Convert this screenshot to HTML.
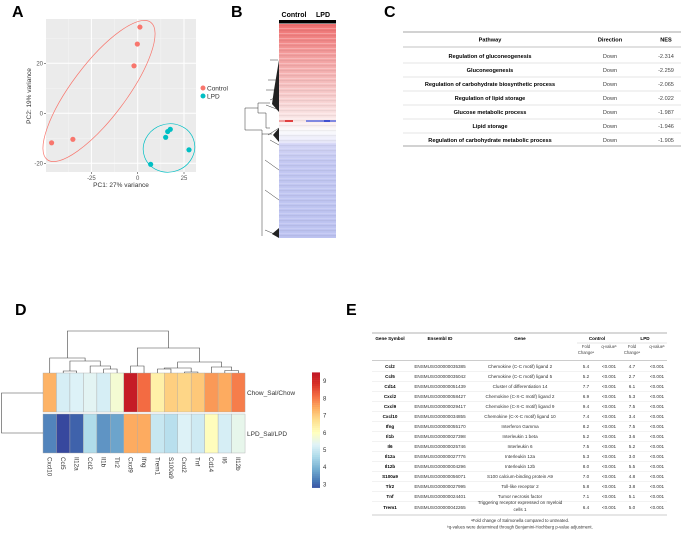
<!DOCTYPE html>
<html><head><meta charset="utf-8"><style>
body{margin:0;background:#fff;}
svg{display:block;font-family:"Liberation Sans",Arial,sans-serif;}
</style></head><body>
<svg id="fig" width="682" height="535" viewBox="0 0 682 535" xmlns="http://www.w3.org/2000/svg">
<g font-weight="bold" font-size="16" fill="#000">
<text x="12" y="17">A</text>
<text x="231" y="17">B</text>
<text x="384" y="17">C</text>
<text x="15" y="315">D</text>
<text x="346" y="315">E</text>
</g>
<g id="pca"></g>
<g id="heatB"></g>
<g id="tableC"></g>
<g id="heatD"></g>
<g id="tableE"></g>
</svg>
<script>
const NS="http://www.w3.org/2000/svg";
function mk(parent,tag,attrs,text){const e=document.createElementNS(NS,tag);for(const k in attrs)e.setAttribute(k,attrs[k]);if(text!==undefined)e.textContent=text;parent.appendChild(e);return e;}

// ===== Panel A data =====
const pcaControlX=[1.2,-0.2,-2,-35,-46.5];
const pcaControlY=[34.5,27.7,19,-10.4,-11.8];
const pcaLpdX=[17.6,16.2,15.1,27.7,7];
const pcaLpdY=[-6.4,-7.3,-9.6,-14.6,-20.4];
const pcaXTicks=[-25,0,25];
const pcaYTicks=[-20,0,20];

// ===== Panel C data =====
const pathways=["Regulation of gluconeogenesis","Gluconeogenesis","Regulation of carbohydrate biosynthetic process","Regulation of lipid storage","Glucose metabolic process","Lipid storage","Regulation of carbohydrate metabolic process"];
const pathwayDirection=["Down","Down","Down","Down","Down","Down","Down"];
const pathwayNES=["-2.314","-2.259","-2.065","-2.022","-1.987","-1.946","-1.905"];

// ===== Panel D data =====
const dGenes=["Cxcl10","Ccl5","Il12a","Ccl2","Il1b","Tlr2","Cxcl9","Ifng","Trem1","S100a9","Cxcl2","Tnf","Cd14","Il6","Il12b"];
const dChow=[7.4,5.2,5.3,5.4,5.2,5.8,9.4,8.2,6.4,7.0,6.9,7.1,7.7,7.5,8.0];
const dLpd=[3.4,2.7,3.0,4.7,3.6,3.8,7.5,7.5,5.0,4.8,5.3,5.1,6.1,5.2,5.5];
const dRows=["Chow_Sal/Chow","LPD_Sal/LPD"];
const dScaleTicks=[3,4,5,6,7,8,9];

// ===== Panel E data =====
const eSymbols=["Ccl2","Ccl5","Cd14","Cxcl2","Cxcl9","Cxcl10","Ifng","Il1b","Il6","Il12a","Il12b","S100a9","Tlr2","Tnf","Trem1"];
const eIds=["ENSMUSG00000035385","ENSMUSG00000035042","ENSMUSG00000051439","ENSMUSG00000058427","ENSMUSG00000029417","ENSMUSG00000034855","ENSMUSG00000055170","ENSMUSG00000027398","ENSMUSG00000025746","ENSMUSG00000027776","ENSMUSG00000004296","ENSMUSG00000056071","ENSMUSG00000027995","ENSMUSG00000024401","ENSMUSG00000042265"];
const eNames=["Chemokine (C-C motif) ligand 2","Chemokine (C-C motif) ligand 5","Cluster of differentiation 14","Chemokine (C-X-C motif) ligand 2","Chemokine (C-X-C motif) ligand 9","Chemokine (C-X-C motif) ligand 10","Interferon Gamma","Interleukin 1 beta","Interleukin 6","Interleukin 12a","Interleukin 12b","S100 calcium-binding protein A9","Toll-like receptor 2","Tumor necrosis factor","Triggering receptor expressed on myeloid|cells 1"];
const eCtrlFold=["5.4","5.2","7.7","6.9","9.4","7.4","8.2","5.2","7.5","5.3","8.0","7.0","5.8","7.1","6.4"];
const eLpdFold=["4.7","2.7","6.1","5.3","7.5","3.4","7.5","3.6","5.2","3.0","5.5","4.8","3.8","5.1","5.0"];

// ---------- Panel A ----------
(function(){
 const g=document.getElementById('pca');
 const x0=46,x1=196,y0=19,y1=172;
 const sx=v=>137.7+v*1.852, sy=v=>113.3-v*2.5;
 const bg=mk(g,'rect',{x:x0,y:y0,width:x1-x0,height:y1-y0,fill:'#ebebeb'});
 
 [-37.5,-12.5,12.5].forEach(v=>mk(g,'line',{x1:sx(v),x2:sx(v),y1:y0,y2:y1,stroke:'#f5f5f5','stroke-width':0.5}));
 [-10,10,30].forEach(v=>mk(g,'line',{x1:x0,x2:x1,y1:sy(v),y2:sy(v),stroke:'#f5f5f5','stroke-width':0.5}));
 pcaXTicks.forEach(v=>{mk(g,'line',{x1:sx(v),x2:sx(v),y1:y0,y2:y1,stroke:'#fff','stroke-width':1});
  mk(g,'line',{x1:sx(v),x2:sx(v),y1:y1,y2:y1+2,stroke:'#444','stroke-width':0.6});
  const t=mk(g,'text',{x:sx(v),y:y1+8,'font-size':6,fill:'#555','text-anchor':'middle'},String(v));
  });
 pcaYTicks.forEach(v=>{mk(g,'line',{x1:x0,x2:x1,y1:sy(v),y2:sy(v),stroke:'#fff','stroke-width':1});
  mk(g,'line',{x1:x0-2,x2:x0,y1:sy(v),y2:sy(v),stroke:'#444','stroke-width':0.6});
  const t=mk(g,'text',{x:x0-3,y:sy(v)+2,'font-size':6,fill:'#555','text-anchor':'end'},String(v));
  });
 const e1=mk(g,'ellipse',{cx:99,cy:91,rx:86,ry:27,fill:'none',stroke:'#f8766d','stroke-width':0.7,transform:'rotate(-53 99 91)'});
 
 const e2=mk(g,'ellipse',{cx:169,cy:148,rx:26,ry:24,fill:'none',stroke:'#00bfc4','stroke-width':0.7,transform:'rotate(-20 169 148)'});
 
 pcaControlX.forEach((v,i)=>{const c=mk(g,'circle',{cx:sx(v),cy:sy(pcaControlY[i]),r:2.6,fill:'#f8766d'});
  });
 pcaLpdX.forEach((v,i)=>{const c=mk(g,'circle',{cx:sx(v),cy:sy(pcaLpdY[i]),r:2.6,fill:'#00bfc4'});
  });
 const xt=mk(g,'text',{x:121,y:187,'font-size':6.5,fill:'#333','text-anchor':'middle'},'PC1: 27% variance');
 
 const yt=mk(g,'text',{x:0,y:0,'font-size':6.5,fill:'#333','text-anchor':'middle',transform:'translate(31,96) rotate(-90)'},'PC2: 19% variance');
 
 const l1=mk(g,'g',{});
 mk(l1,'circle',{cx:203,cy:88,r:2.5,fill:'#f8766d'});mk(l1,'text',{x:207,y:90.5,'font-size':6.5,fill:'#333'},'Control');
 const l2=mk(g,'g',{});
 mk(l2,'circle',{cx:203,cy:96,r:2.5,fill:'#00bfc4'});mk(l2,'text',{x:207,y:98.5,'font-size':6.5,fill:'#333'},'LPD');
})();

// ---------- Panel B ----------
(function(){
 const g=document.getElementById('heatB');
 const hx0=279,hx1=336,hy0=24,hy1=238;
 const gr=mk(g,'defs',{});
 const lg=mk(gr,'linearGradient',{id:'bgrad',x1:0,y1:0,x2:0,y2:1});
 [[0,'#f07070'],[0.15,'#f4a0a0'],[0.35,'#f8d0d0'],[0.45,'#fbeaea'],[0.5,'#fafafc'],[0.55,'#e8e8fa'],[0.65,'#d4d8f6'],[1,'#ccd2f4']].forEach(s=>mk(lg,'stop',{offset:s[0],'stop-color':s[1]}));
 const pt=mk(gr,'pattern',{id:'stripes',width:57,height:5,patternUnits:'userSpaceOnUse'});
 mk(pt,'rect',{x:0,y:0,width:57,height:1.2,fill:'rgba(0,0,0,0.05)'});
 mk(pt,'rect',{x:0,y:3,width:57,height:0.8,fill:'rgba(255,255,255,0.3)'});
 const hm=mk(g,'rect',{x:hx0,y:hy0,width:hx1-hx0,height:hy1-hy0,fill:'url(#bgrad)'});
 
 mk(g,'rect',{x:hx0,y:hy0,width:hx1-hx0,height:hy1-hy0,fill:'url(#stripes)'});
 mk(g,'rect',{x:hx0,y:143,width:57,height:95,fill:'rgba(80,90,220,0.12)'});
 mk(g,'rect',{x:285,y:120,width:8,height:2,fill:'#e04040'});
 mk(g,'rect',{x:279,y:120,width:6,height:2,fill:'#f0a0a0'});
 mk(g,'rect',{x:306,y:120,width:30,height:2,fill:'#8088e0'});
 mk(g,'rect',{x:324,y:120,width:6,height:2,fill:'#4050d0'});
 mk(g,'rect',{x:279,y:20,width:57,height:3.5,fill:'#000'});
 const c=mk(g,'text',{x:294,y:17,'font-size':7,'font-weight':'bold','text-anchor':'middle'},'Control');
 
 const l=mk(g,'text',{x:323,y:17,'font-size':7,'font-weight':'bold','text-anchor':'middle'},'LPD');
 
 const dg=mk(g,'g',{stroke:'#000','stroke-width':0.4,fill:'none'});
 
 mk(dg,'path',{d:'M245,108 V130 M245,108 H258 M245,130 H262 M258,103 V113 M258,103 H270 M258,113 H266 M262,130 V236 M262,134 H272 M266,113 V128 M266,128 H270'});
 mk(dg,'path',{d:'M270,60 L278,60 M268,80 L279,80 M266,90 L279,90 M270,100 L279,96 M266,105 L279,110 M268,135 L279,128 M270,140 L279,145 M265,160 L279,170 M265,190 L279,200 M265,230 L279,236'});
 mk(g,'polygon',{points:'279,60 279,112 272,104 274,90','fill':'#222'});
 mk(g,'polygon',{points:'279,128 279,142 273,135','fill':'#222'});
 mk(g,'polygon',{points:'279,228 279,238 272,234','fill':'#222'});
})();

// ---------- Panel C ----------
(function(){
 const g=document.getElementById('tableC');
 mk(g,'line',{x1:403,x2:681,y1:32,y2:32,stroke:'#888','stroke-width':0.8});
 mk(g,'line',{x1:403,x2:681,y1:47,y2:47,stroke:'#888','stroke-width':0.6});
 mk(g,'line',{x1:403,x2:681,y1:146,y2:146,stroke:'#888','stroke-width':0.8});
 [['Pathway',490],['Direction',610],['NES',666]].forEach(h=>{const t=mk(g,'text',{x:h[1],y:41.5,'font-size':5.6,'font-weight':'bold','text-anchor':'middle'},h[0]);
  });
 pathways.forEach((p,i)=>{const y=56+i*14;
  if(i>0)mk(g,'line',{x1:403,x2:681,y1:y-7,y2:y-7,stroke:'#ccc','stroke-width':0.5});
  const r=mk(g,'g',{});
  mk(r,'text',{x:490,y:y+2,'font-size':5.6,'font-weight':'bold','text-anchor':'middle'},p);
  mk(r,'text',{x:610,y:y+2,'font-size':5.6,fill:'#444','text-anchor':'middle'},pathwayDirection[i]);
  mk(r,'text',{x:666,y:y+2,'font-size':5.6,fill:'#444','text-anchor':'middle'},pathwayNES[i]);});
})();

// ---------- Panel D ----------
(function(){
 const g=document.getElementById('heatD');
 const cx0=43,cw=13.47,r1=373,r2=414,rh=39;
 const vmin=2.5,vmax=9.6;
 const stops=[[0,[49,54,149]],[0.1,[69,117,180]],[0.2,[116,173,209]],[0.3,[171,217,233]],[0.4,[224,243,248]],[0.5,[255,255,191]],[0.6,[254,224,144]],[0.7,[253,174,97]],[0.8,[244,109,67]],[0.9,[215,48,39]],[1,[190,20,38]]];
 function col(v){let t=(v-vmin)/(vmax-vmin);t=Math.max(0,Math.min(1,t));
  for(let i=1;i<stops.length;i++){if(t<=stops[i][0]+1e-9){const a=stops[i-1],b=stops[i],f=(t-a[0])/(b[0]-a[0]);
   return 'rgb('+a[1].map((c,k)=>Math.round(c+(b[1][k]-c)*f)).join(',')+')';}}return 'rgb(190,20,38)';}
 const cx=i=>cx0+cw*(i+0.5);
 dGenes.forEach((gn,i)=>{
  const a=mk(g,'rect',{x:cx0+cw*i,y:r1,width:cw,height:rh,fill:col(dChow[i]),stroke:'#aaa','stroke-width':0.4});
  
  const b=mk(g,'rect',{x:cx0+cw*i,y:r2,width:cw,height:rh,fill:col(dLpd[i]),stroke:'#aaa','stroke-width':0.4});
  
  const t=mk(g,'text',{x:0,y:0,'font-size':6.3,fill:'#333',transform:'translate('+(cx(i)-2.2)+',457) rotate(90)'},gn);
  });
 dRows.forEach((r,i)=>{const t=mk(g,'text',{x:247,y:(i?r2:r1)+rh/2+2.5,'font-size':6.5,fill:'#333'},r);
  });
 const dd=mk(g,'g',{stroke:'#444','stroke-width':0.6,fill:'none'});
 
 function link(xa,ya,xb,yb,h){mk(dd,'path',{d:'M'+xa+','+ya+' V'+h+' H'+xb+' V'+yb});return [(xa+xb)/2,h];}
 const n=(i)=>[cx(i),r1];
 const a12=link(...n(1),...n(2),371);
 const a45=link(...n(4),...n(5),369);
 const a345=link(...n(3),...a45,366);
 const a1_5=link(...a12,...a345,361);
 const aL=link(...n(0),...a1_5,358);
 const a67=link(...n(6),...n(7),366);
 const a89=link(...n(8),...n(9),369);
 const a1011=link(...n(10),...n(11),372);
 const a8_11=link(...a89,...a1011,368);
 const a1314=link(...n(13),...n(14),370.5);
 const a12_14=link(...n(12),...a1314,367);
 const a8_14=link(...a8_11,...a12_14,362);
 const aR=link(...a67,...a8_14,348);
 link(...aL,...aR,331);
 const rd=mk(g,'path',{d:'M43,393 H1.5 V433 H43',stroke:'#444','stroke-width':0.6,fill:'none'});
 
 const ys=v=>381+(9-v)*17.2;
 const sg=mk(g,'g',{});
 for(let k=0;k<60;k++){const v=9.5-(9.5-2.8)*k/60;const v2=9.5-(9.5-2.8)*(k+1)/60;
  mk(sg,'rect',{x:312,y:ys(v),width:8,height:ys(v2)-ys(v)+0.3,fill:col(v)});}
 dScaleTicks.forEach(v=>{mk(sg,'text',{x:323,y:ys(v)+2.2,'font-size':6,fill:'#333'},String(v));});
})();

// ---------- Panel E ----------
(function(){
 const g=document.getElementById('tableE');
 const L=372,R=667,fs=4.6;
 const colX=[390,440,520,586,609,632,657];
 mk(g,'line',{x1:L,x2:R,y1:333,y2:333,stroke:'#999','stroke-width':0.7});
 mk(g,'line',{x1:577,x2:R,y1:343,y2:343,stroke:'#bbb','stroke-width':0.4});
 mk(g,'line',{x1:L,x2:R,y1:360.5,y2:360.5,stroke:'#999','stroke-width':0.5});
 const hd=mk(g,'g',{'font-size':fs,'font-weight':'bold','text-anchor':'middle'});
 
 mk(hd,'text',{x:colX[0],y:340},'Gene Symbol');mk(hd,'text',{x:colX[1],y:340},'Ensembl ID');
 mk(hd,'text',{x:colX[2],y:340},'Gene');mk(hd,'text',{x:597,y:340},'Control');mk(hd,'text',{x:645,y:340},'LPD');
 const h2=mk(g,'g',{'font-size':4.2,fill:'#444','text-anchor':'middle'});
 mk(h2,'text',{x:colX[3],y:348},'Fold');mk(h2,'text',{x:colX[3],y:354},'Changeᵃ');
 mk(h2,'text',{x:colX[4],y:348},'q-valueᵇ');
 mk(h2,'text',{x:colX[5],y:348},'Fold');mk(h2,'text',{x:colX[5],y:354},'Changeᵃ');
 mk(h2,'text',{x:colX[6],y:348},'q-valueᵇ');
 eSymbols.forEach((s,i)=>{const y=366.3+i*10;const last=i===eSymbols.length-1;const yc=last?y+1:y;
  const r=mk(g,'g',{'font-size':fs,'text-anchor':'middle',fill:'#333'});
  
  mk(r,'text',{x:colX[0],y:yc+1.6,'font-weight':'bold',fill:'#000'},s);
  mk(r,'text',{x:colX[1],y:yc+1.6},eIds[i]);
  const parts=eNames[i].split('|');
  if(parts.length>1){mk(r,'text',{x:colX[2],y:y-2.4},parts[0]);mk(r,'text',{x:colX[2],y:y+4.6},parts[1]);}
  else mk(r,'text',{x:colX[2],y:yc+1.6},parts[0]);
  mk(r,'text',{x:colX[3],y:yc+1.6},eCtrlFold[i]);mk(r,'text',{x:colX[4],y:yc+1.6},'<0.001');
  mk(r,'text',{x:colX[5],y:yc+1.6},eLpdFold[i]);mk(r,'text',{x:colX[6],y:yc+1.6},'<0.001');
  if(!last)mk(g,'line',{x1:L,x2:R,y1:y+5,y2:y+5,stroke:'#ddd','stroke-width':0.4});});
 mk(g,'line',{x1:L,x2:R,y1:515,y2:515,stroke:'#999','stroke-width':0.6});
 const f=mk(g,'g',{'font-size':4.3,fill:'#333','text-anchor':'middle'});
 
 mk(f,'text',{x:520,y:522},'ᵃFold change of Salmonella compared to untreated.');
 mk(f,'text',{x:520,y:528.5},'ᵇq-values were determined through Benjamini-Hochberg p-value adjustment.');
})();
</script>
</body></html>
